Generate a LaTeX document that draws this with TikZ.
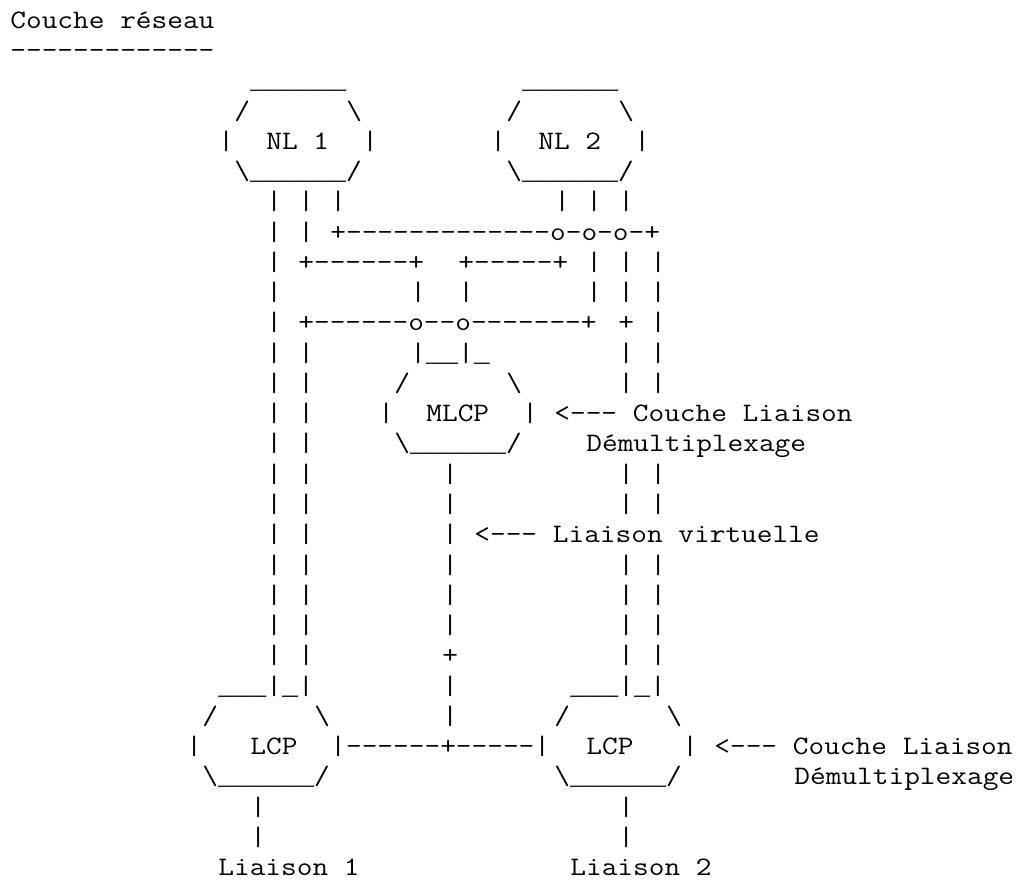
\documentclass[tikz,border=0pt]{standalone}
\usepackage{fontspec}
\setmonofont{Latin Modern Mono}[FakeStretch=1.1431]
\newfontfamily\lmono{Liberation Mono}
\tikzset{
	asc/.style={font=\fontsize{13.33pt}{15.14pt}\selectfont\ttfamily, inner sep=0pt, anchor=base west},
}
\begin{document}
\begin{tikzpicture}[x=8pt,y=-15.135pt]
	\useasboundingbox (-0.625,-0.932) rectangle (63.125,28.107);

	% titre
	\node[asc] (titre) at (0,0) {Couche réseau};
	\node[asc] (souligne) at (0,1) {-------------};

	% NL 1
	\node[asc] (nl1haut) at (15,2) {{\lmono\_\_\_\_\_\_}};
	\node[asc] (nl1hg) at (14,3) {/};
	\node[asc] (nl1hd) at (21,3) {\textbackslash};
	\node[asc] (nl1g) at (13,4) {|};
	\node[asc] (nl1) at (16,4) {NL 1};
	\node[asc] (nl1d) at (22,4) {|};
	\node[asc] (nl1bas) at (14,5) {\textbackslash{\lmono\_\_\_\_\_\_}/};

	% NL 2
	\node[asc] (nl2haut) at (32,2) {{\lmono\_\_\_\_\_\_}};
	\node[asc] (nl2hg) at (31,3) {/};
	\node[asc] (nl2hd) at (38,3) {\textbackslash};
	\node[asc] (nl2g) at (30,4) {|};
	\node[asc] (nl2) at (33,4) {NL 2};
	\node[asc] (nl2d) at (39,4) {|};
	\node[asc] (nl2bas) at (31,5) {\textbackslash{\lmono\_\_\_\_\_\_}/};

	% raccords
	\node[asc] (bus1) at (20,7) {+-------------o-o-o-+};
	\node[asc] (bus2g) at (18,8) {+------+};
	\node[asc] (bus2d) at (28,8) {+-----+};
	\node[asc] (bus3) at (18,10) {+------o--o-------+};
	\node[asc] (bus3p) at (38,10) {+};
	\node[asc] (virt) at (27,21) {+};

	% MLCP
	\node[asc] (mlcphaut) at (25,11) {|{\lmono\_\_}|{\lmono\_}};
	\node[asc] (mlcphg) at (24,12) {/};
	\node[asc] (mlcphd) at (31,12) {\textbackslash};
	\node[asc] (mlcpg) at (23,13) {|};
	\node[asc] (mlcp) at (26,13) {MLCP};
	\node[asc] (mlcpd) at (32,13) {|};
	\node[asc] (mlcpbas) at (24,14) {\textbackslash{\lmono\_\_\_\_\_\_}/};

	% LCP 1
	\node[asc] (lcp1haut) at (13,22) {{\lmono\_\_\_}|{\lmono\_}|};
	\node[asc] (lcp1hg) at (12,23) {/};
	\node[asc] (lcp1hd) at (19,23) {\textbackslash};
	\node[asc] (lcp1g) at (11,24) {|};
	\node[asc] (lcp1) at (15,24) {LCP};
	\node[asc] (lien) at (20,24) {|------+-----|};
	\node[asc] (lcp1bas) at (12,25) {\textbackslash{\lmono\_\_\_\_\_\_}/};

	% LCP 2
	\node[asc] (lcp2haut) at (35,22) {{\lmono\_\_\_}|{\lmono\_}|};
	\node[asc] (lcp2hg) at (34,23) {/};
	\node[asc] (lcp2hd) at (41,23) {\textbackslash};
	\node[asc] (lcp2) at (36,24) {LCP};
	\node[asc] (lcp2d) at (42,24) {|};
	\node[asc] (lcp2bas) at (34,25) {\textbackslash{\lmono\_\_\_\_\_\_}/};

	% barres verticales
	\foreach \r in {6,...,21} \node[asc] (b16-\r) at (16,\r) {|};
	\foreach \r in {6,7,11,12,...,21} \node[asc] (b18-\r) at (18,\r) {|};
	\node[asc] (b20-6) at (20,6) {|};
	\node[asc] (b34-6) at (34,6) {|};
	\node[asc] (b25-9) at (25,9) {|};
	\node[asc] (b28-9) at (28,9) {|};
	\foreach \r in {15,...,20,22,23} \node[asc] (b27-\r) at (27,\r) {|};
	\foreach \r in {6,8,9} \node[asc] (b36-\r) at (36,\r) {|};
	\foreach \r in {6,8,9,11,12,15,16,18,19,20,21,26,27} \node[asc] (b38-\r) at (38,\r) {|};
	\foreach \r in {8,9,10,11,12,15,16,18,19,20,21} \node[asc] (b40-\r) at (40,\r) {|};
	\foreach \r in {26,27} \node[asc] (b15-\r) at (15,\r) {|};

	% legendes
	\node[asc] (leg1) at (34,13) {<--- Couche Liaison};
	\node[asc] (leg1b) at (36,14) {Démultiplexage};
	\node[asc] (leg2) at (29,17) {<--- Liaison virtuelle};
	\node[asc] (leg3) at (44,24) {<--- Couche Liaison};
	\node[asc] (leg3b) at (49,25) {Démultiplexage};
	\node[asc] (liaison1) at (13,28) {Liaison 1};
	\node[asc] (liaison2) at (35,28) {Liaison 2};
\end{tikzpicture}
\end{document}
